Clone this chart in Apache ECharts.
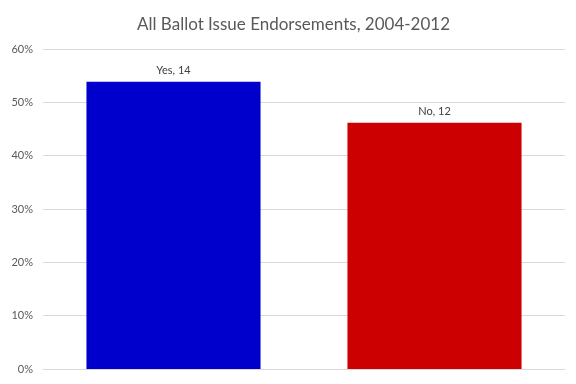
<!DOCTYPE html>
<html>
<head>
<meta charset="utf-8">
<script src="https://cdn.jsdelivr.net/npm/echarts@6/dist/echarts.min.js"></script>
<style>html,body{margin:0;padding:0;background:#fff;}#c{width:576px;height:384px;}</style>
</head>
<body>
<div id="c"></div>
<script>
const categories = ['Yes', 'No'];
const counts = [14, 12];
const percents = [53.85, 46.15];
const colors = ['#0000CC', '#CC0000'];
const yTicks = [0, 10, 20, 30, 40, 50, 60];

const chart = echarts.init(document.getElementById('c'));
chart.setOption({
  animation: false,
  backgroundColor: '#ffffff',
  title: {
    text: 'All Ballot Issue Endorsements, 2004-2012',
    left: 132,
    top: 11,
    textStyle: { fontFamily: 'Lato', fontSize: 17, fontWeight: 'normal', color: '#595959' }
  },
  grid: { left: 43, right: 11, top: 49, bottom: 15, containLabel: false },
  xAxis: {
    type: 'category',
    data: categories,
    axisLine: { show: true, lineStyle: { color: '#d9d9d9' } },
    axisTick: { show: false },
    axisLabel: { show: false }
  },
  yAxis: {
    type: 'value',
    min: yTicks[0],
    max: yTicks[yTicks.length - 1],
    interval: 10,
    axisLine: { show: false },
    axisTick: { show: false },
    splitLine: { lineStyle: { color: '#d9d9d9', width: 1 } },
    axisLabel: {
      formatter: v => v + '%',
      fontFamily: 'Lato', fontSize: 11, color: '#595959', margin: 10
    }
  },
  series: [{
    type: 'bar',
    barCategoryGap: '33.3%',
    data: percents.map((v, i) => ({ value: v, itemStyle: { color: colors[i] } })),
    label: {
      show: true,
      position: 'top',
      distance: 6,
      formatter: p => categories[p.dataIndex] + ', ' + counts[p.dataIndex],
      fontFamily: 'Lato', fontSize: 11, color: '#404040'
    }
  }]
});
</script>
</body>
</html>
